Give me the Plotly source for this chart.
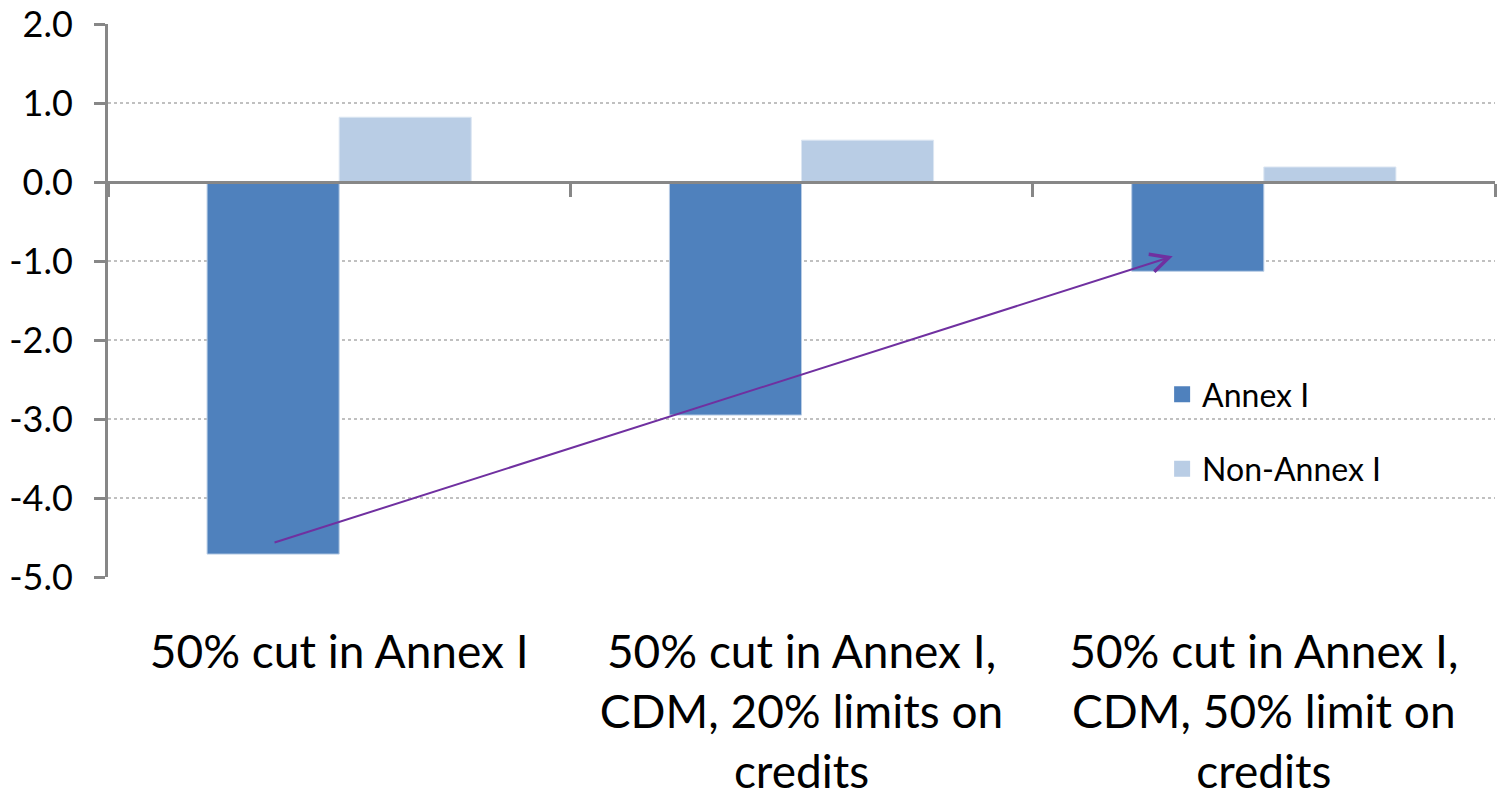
import plotly.graph_objects as go

# Scenario labels and change in values (percentage points)
scenarios = [
    "50% cut in Annex I",
    "50% cut in Annex I,<br>CDM, 20% limits on<br>credits",
    "50% cut in Annex I,<br>CDM, 50% limit on<br>credits",
]
annex_i = [-4.71, -2.95, -1.13]
non_annex_i = [0.82, 0.53, 0.19]
series_names = ["Annex I", "Non-Annex I"]
series_colors = ["#4F81BD", "#B9CDE5"]
edge_colors = ["#B9CDE5", "#DCE6F2"]

y_min, y_max = -5.0, 2.0
y_ticks = [-5, -4, -3, -2, -1, 0, 1, 2]
y_tick_text = ["-5.0", "-4.0", "-3.0", "-2.0", "-1.0", "0.0", "1.0", "2.0"]

FONT = "Lato"
AXIS_GREY = "#878787"
GRID_GREY = "#C0C0C0"

fig = go.Figure()
for name, vals, col, edge in zip(series_names, [annex_i, non_annex_i],
                                 series_colors, edge_colors):
    fig.add_trace(go.Bar(
        x=scenarios, y=vals, name=name, showlegend=False,
        marker=dict(color=col, line=dict(color=edge, width=1)),
    ))

# legend keys drawn as larger square swatches
for i, (name, col) in enumerate(zip(series_names, series_colors)):
    fig.add_trace(go.Scatter(
        x=[None], y=[None], mode="markers", name=name,
        legendgroup=f"g{i}",
        marker=dict(symbol="square", size=18, color=col),
    ))

# invisible trace that carries the category axis drawn through zero
fig.add_trace(go.Bar(
    x=scenarios, y=[0, 0, 0], xaxis="x2", showlegend=False,
    hoverinfo="skip", marker=dict(color="rgba(0,0,0,0)"),
))

# trend arrow from the first Annex I bar towards the third
fig.add_annotation(
    x=1.803, y=-0.94, ax=-0.143, ay=-4.57,
    xref="x", yref="y", axref="x", ayref="y",
    text="", showarrow=True, arrowhead=5, arrowsize=1.8,
    arrowwidth=2, arrowcolor="#7030A0",
)

fig.update_layout(
    width=1499, height=801,
    margin=dict(l=108, r=4, t=24, b=224),
    paper_bgcolor="white", plot_bgcolor="white",
    barmode="group", bargap=0.4286, bargroupgap=0,
    font=dict(family=FONT, color="black"),
    showlegend=True,
    legend=dict(
        x=0.760, y=0.38, xanchor="left", yanchor="top",
        font=dict(size=32, family=FONT), tracegroupgap=30,
        bgcolor="rgba(0,0,0,0)", traceorder="grouped",
        itemwidth=30,
    ),
    xaxis=dict(
        type="category", showline=False, showgrid=False, zeroline=False,
        ticks="", tickfont=dict(size=46, family=FONT),
        ticklabelstandoff=44, automargin=False,
    ),
    xaxis2=dict(
        type="category", overlaying="x", anchor="free",
        position=(0 - y_min) / (y_max - y_min),
        showline=True, linecolor=AXIS_GREY, linewidth=3,
        ticks="outside", tickson="boundaries", ticklen=13,
        tickwidth=3, tickcolor=AXIS_GREY,
        showticklabels=False, showgrid=False, zeroline=False,
        matches="x", automargin=False,
    ),
    yaxis=dict(
        range=[y_min, y_max], tickvals=y_ticks, ticktext=y_tick_text,
        tickfont=dict(size=36, family=FONT),
        showline=True, linecolor=AXIS_GREY, linewidth=3,
        ticks="outside", ticklen=11, tickwidth=3, tickcolor=AXIS_GREY,
        showgrid=True, gridcolor=GRID_GREY, gridwidth=2, griddash="dot",
        zeroline=False, ticklabelstandoff=14, automargin=False,
    ),
)

fig.write_html("out.html")
